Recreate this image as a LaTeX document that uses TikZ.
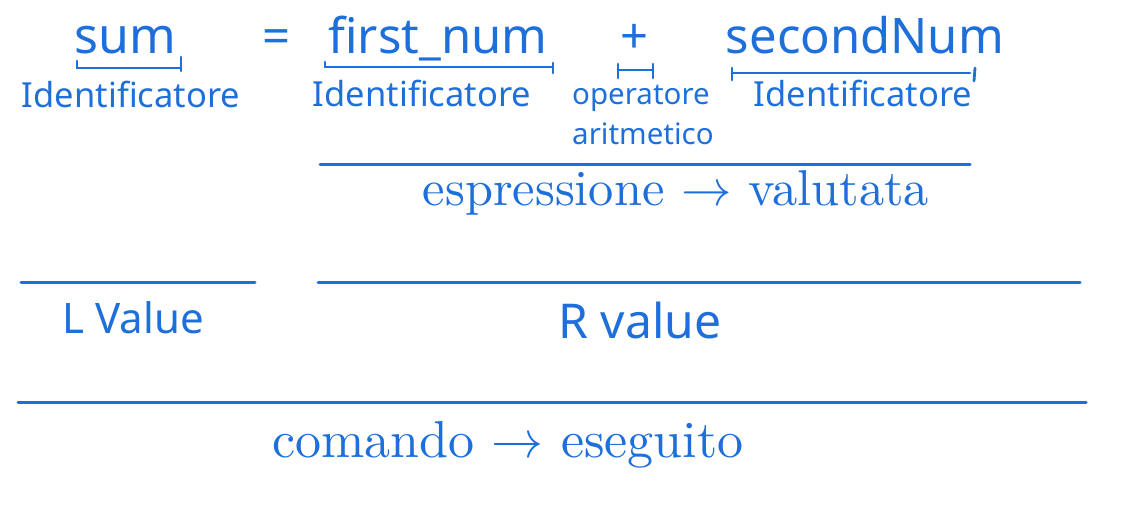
\documentclass[tikz,border=0pt]{standalone}
\usepackage{graphicx}
\usepackage{fontspec}
\newfontfamily\noto{Noto Sans}
\definecolor{blu}{RGB}{31,111,219}
\tikzset{
  txt/.style={inner sep=0pt, anchor=base, text=blu},
  big/.style={txt, font=\noto\fontsize{49}{53}\selectfont},
  lab/.style={txt, font=\noto\fontsize{34.5}{38}\selectfont},
  small/.style={txt, font=\noto\fontsize{29.5}{32}\selectfont, anchor=base west},
  serif/.style={txt, font=\fontsize{10}{12}\selectfont},
  rule/.style={draw=blu, line width=3pt, line cap=round},
  brk/.style={draw=blu, line width=2.8pt, line cap=round}
}
\begin{document}
\begin{tikzpicture}[x=1pt,y=-1pt]
\useasboundingbox (0,0) rectangle (1127,514);
% top row
\node[big, font=\noto\fontsize{50}{54}\selectfont] (sum) at (125,53) {sum};
\node[big] (eq) at (277,53) {=};
\node[big] (fn) at (438,53) {first\_num};
\node[big] (plus) at (635,53) {+};
\node[big] (sn) at (865,53) {secondNum};
% brackets
\coordinate (b1a) at (77,61); \coordinate (b1b) at (77,68); \coordinate (b1c) at (181,68); \coordinate (b1d) at (181,57); \coordinate (b1e) at (181,71);
\draw[brk] (b1a) -- (b1b) -- (b1c); \draw[brk] (b1d) -- (b1e);
\coordinate (b2a) at (325,62); \coordinate (b2b) at (325,67); \coordinate (b2c) at (553,67); \coordinate (b2d) at (553,63); \coordinate (b2e) at (553,73);
\draw[brk] (b2a) -- (b2b) -- (b2c); \draw[brk] (b2d) -- (b2e);
\coordinate (b3a) at (618,64); \coordinate (b3b) at (618,78); \coordinate (b3c) at (618,70); \coordinate (b3d) at (653,70); \coordinate (b3e) at (653,64); \coordinate (b3f) at (653,78);
\draw[brk] (b3a) -- (b3b); \draw[brk] (b3c) -- (b3d); \draw[brk] (b3e) -- (b3f);
\coordinate (b4a) at (732,68); \coordinate (b4b) at (732,80); \coordinate (b4c) at (732,73); \coordinate (b4d) at (970,73); \coordinate (b4e) at (975,68); \coordinate (b4f) at (974,81);
\draw[brk] (b4a) -- (b4b); \draw[brk] (b4c) -- (b4d); \draw[brk] (b4e) -- (b4f);
% labels
\node[lab] (id1) at (131,107) {Identificatore};
\node[lab] (id2) at (422,106) {Identificatore};
\node[lab] (id3) at (863,106) {Identificatore};
\node[small] (op1) at (572,104) {operatore};
\node[small] (op2) at (572,144) {aritmetico};
% rules
\coordinate (r1a) at (320,164); \coordinate (r1b) at (970,164);
\draw[rule] (r1a) -- (r1b);
\node[serif] (esp) at (676,205) {\scalebox{5.04}{espressione {$\rightarrow$} valutata}};
\coordinate (r2a) at (21,282); \coordinate (r2b) at (255,282);
\draw[rule] (r2a) -- (r2b);
\coordinate (r3a) at (318,282); \coordinate (r3b) at (1080,282);
\draw[rule] (r3a) -- (r3b);
\node[txt, font=\noto\fontsize{42}{46}\selectfont] (lv) at (133,333) {L Value};
\node[txt, font=\noto\fontsize{48}{52}\selectfont] (rv) at (640,338) {R value};
\coordinate (r4a) at (18,402); \coordinate (r4b) at (1086,402);
\draw[rule] (r4a) -- (r4b);
\node[serif] (com) at (508,457) {\scalebox{5.2}{comando {$\rightarrow$} eseguito}};
\end{tikzpicture}
\end{document}
